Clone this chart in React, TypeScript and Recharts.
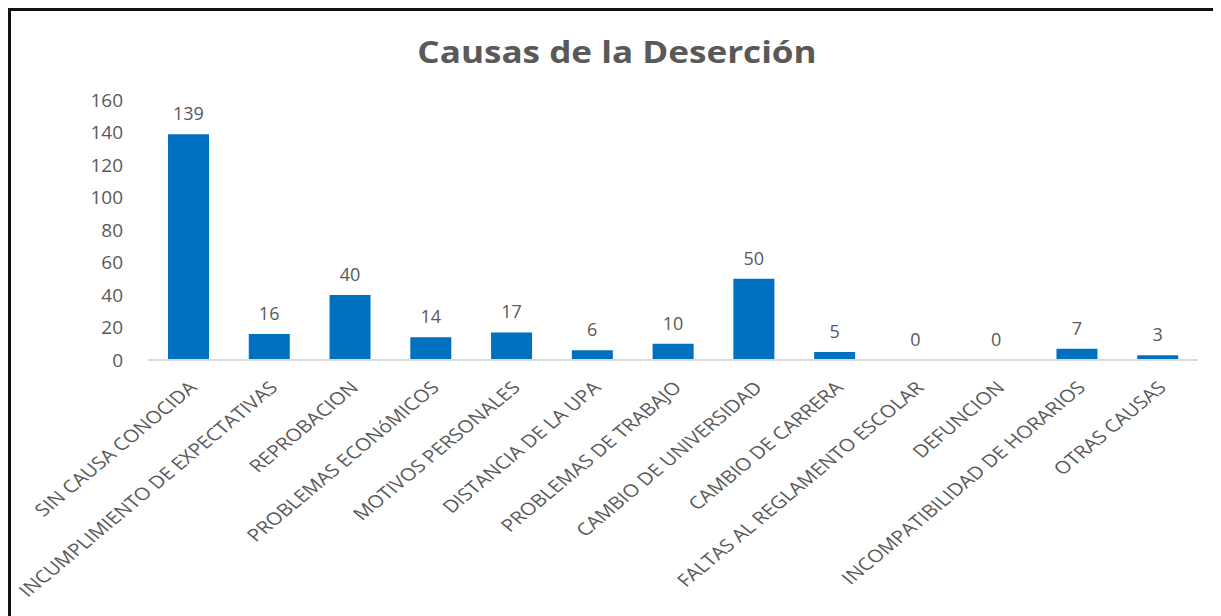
import { Bar, ComposedChart, LabelList, Line, XAxis, YAxis } from "recharts";

const causes = [
  "SIN CAUSA CONOCIDA",
  "INCUMPLIMIENTO DE EXPECTATIVAS",
  "REPROBACION",
  "PROBLEMAS ECONóMICOS",
  "MOTIVOS PERSONALES",
  "DISTANCIA DE LA UPA",
  "PROBLEMAS DE TRABAJO",
  "CAMBIO DE UNIVERSIDAD",
  "CAMBIO DE CARRERA",
  "FALTAS AL REGLAMENTO ESCOLAR",
  "DEFUNCION",
  "INCOMPATIBILIDAD DE HORARIOS",
  "OTRAS CAUSAS",
];
const students = [139, 16, 40, 14, 17, 6, 10, 50, 5, 0, 0, 7, 3];
const yTicks = [0, 20, 40, 60, 80, 100, 120, 140, 160];

const data = causes.map((cause, i) => ({ cause, value: students[i] }));

const FONT = "'Open Sans', sans-serif";
const GRAY = "#595959";

// the source picture is a bit wider than tall, so the labels get a horizontal stretch
function CauseTick({ x, y, payload }: any) {
  return (
    <g transform={`translate(${x + 4}, ${y + 16}) scale(1.2, 1) rotate(-45)`}>
      <text
        x={0}
        y={0}
        textAnchor="end"
        dominantBaseline="central"
        fill={GRAY}
        fontSize={17.4}
        fontFamily={FONT}
      >
        {payload.value}
      </text>
    </g>
  );
}

export default function App() {
  return (
    <div style={{ position: "relative", width: 1213, height: 608, background: "#fff" }}>
      <div
        style={{
          position: "absolute",
          left: 0,
          top: 0,
          width: "100%",
          height: "100%",
          borderTop: "3px solid #111",
          borderLeft: "3px solid #111",
          boxSizing: "border-box",
          pointerEvents: "none",
        }}
      />
      <div
        style={{
          position: "absolute",
          left: 0,
          top: 23,
          width: 1218,
          textAlign: "center",
          fontFamily: FONT,
          fontWeight: 700,
          fontSize: 30,
          color: GRAY,
          transform: "scaleX(1.17)",
          transformOrigin: "609px 0",
        }}
      >
        Causas de la Deserción
      </div>
      <ComposedChart
        width={1213}
        height={608}
        data={data}
        margin={{ top: 92, right: 23, left: 0, bottom: 0 }}
        barCategoryGap="25%"
      >
        <XAxis
          dataKey="cause"
          interval={0}
          height={256}
          tickLine={false}
          axisLine={{ stroke: "#d9d9d9", strokeWidth: 2 }}
          tick={<CauseTick />}
        />
        <YAxis
          domain={[0, 160]}
          ticks={yTicks}
          width={140}
          axisLine={false}
          tickLine={false}
          tickMargin={19}
          tick={{ fill: GRAY, fontSize: 19, fontFamily: FONT }}
        />
        <Bar dataKey="value" fill="#0070C0" barSize={41} isAnimationActive={false} />
        <Line
          dataKey="value"
          stroke="none"
          dot={false}
          activeDot={false}
          isAnimationActive={false}
        >
          <LabelList
            dataKey="value"
            position="top"
            offset={14}
            fill={GRAY}
            fontSize={18}
            fontFamily={FONT}
          />
        </Line>
      </ComposedChart>
    </div>
  );
}
